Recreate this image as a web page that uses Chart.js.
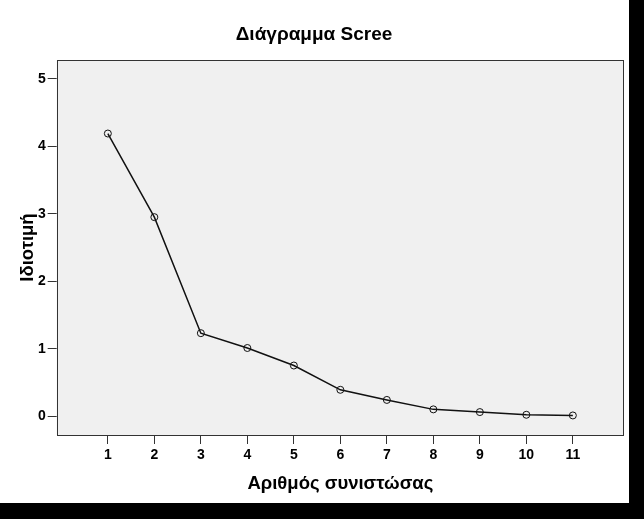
<!DOCTYPE html>
<html>
<head>
<meta charset="utf-8">
<script src="https://cdn.jsdelivr.net/npm/chart.js@4"></script>
<style>
  html, body { margin: 0; padding: 0; background: #000; }
  #wrap { width: 629px; height: 503px; background: #fff; }
</style>
</head>
<body>
<div id="wrap"><canvas id="scree"></canvas></div>
<script>
// Scree plot data
const components = [1, 2, 3, 4, 5, 6, 7, 8, 9, 10, 11];
const eigenvalues = [4.19, 2.95, 1.23, 1.01, 0.75, 0.39, 0.24, 0.10, 0.06, 0.02, 0.01];
const xTicks = [1, 2, 3, 4, 5, 6, 7, 8, 9, 10, 11];
const yTicks = [0, 1, 2, 3, 4, 5];

const FONT = "'Liberation Sans', Arial, sans-serif";

// gray plot background + box round it
const plotBox = {
  id: 'plotBox',
  beforeDatasetsDraw(chart) {
    const { ctx, chartArea: a } = chart;
    ctx.save();
    ctx.fillStyle = '#f0f0f0';
    ctx.fillRect(a.left, a.top, a.right - a.left, a.bottom - a.top);
    ctx.restore();
  },
  afterDraw(chart) {
    const { ctx, chartArea: a } = chart;
    ctx.save();
    ctx.strokeStyle = '#333';
    ctx.lineWidth = 1;
    ctx.strokeRect(Math.round(a.left) + 0.5, Math.round(a.top) + 0.5,
      Math.round(a.right - a.left) - 1, Math.round(a.bottom - a.top));
    ctx.restore();
  }
};

const ctx = document.getElementById('scree');
new Chart(ctx, {
  type: 'line',
  data: {
    datasets: [{
      data: components.map((c, i) => ({ x: c, y: eigenvalues[i] })),
      borderColor: '#111',
      borderWidth: 1.5,
      pointRadius: 3.5,
      pointBorderWidth: 1,
      pointBorderColor: '#111',
      pointBackgroundColor: 'rgba(0,0,0,0)',
      tension: 0,
      fill: false,
    }],
  },
  options: {
    responsive: true,
    maintainAspectRatio: false,
    animation: false,
    layout: { padding: { left: 0, right: 1, top: 0, bottom: 0 } },
    scales: {
      x: {
        type: 'linear',
        min: -0.1,
        max: 12.1,
        afterBuildTicks: (axis) => { axis.ticks = xTicks.map(v => ({ value: v })); },
        afterFit: (axis) => { axis.height = 68; },
        grid: { drawOnChartArea: false, drawTicks: true, tickLength: 9, tickColor: '#333' },
        border: { display: false },
        ticks: { color: '#000', padding: 2.5, font: { family: FONT, size: 14, weight: 'bold' } },
        title: {
          display: true,
          text: 'Αριθμός συνιστώσας',
          color: '#000',
          padding: { top: 0, bottom: 7.9 },
          font: { family: FONT, size: 18.5, weight: 'bold' },
        },
      },
      y: {
        min: -0.28,
        max: 5.28,
        afterBuildTicks: (axis) => { axis.ticks = yTicks.map(v => ({ value: v })); },
        afterFit: (axis) => { axis.width = 56.7; },
        grid: { drawOnChartArea: false, drawTicks: true, tickLength: 9, tickColor: '#333' },
        border: { display: false },
        ticks: { color: '#000', padding: 2, font: { family: FONT, size: 14, weight: 'bold' } },
        title: {
          display: true,
          text: 'Ιδιοτιμή',
          color: '#000',
          padding: { top: 16.9, bottom: 0 },
          font: { family: FONT, size: 18.5, weight: 'bold' },
        },
      },
    },
    plugins: {
      legend: { display: false },
      tooltip: { enabled: false },
      title: {
        display: true,
        text: 'Διάγραμμα Scree',
        color: '#000',
        padding: { top: 23.2, bottom: 14 },
        font: { family: FONT, size: 19, weight: 'bold' },
      },
    },
  },
  plugins: [plotBox],
});
</script>
</body>
</html>
